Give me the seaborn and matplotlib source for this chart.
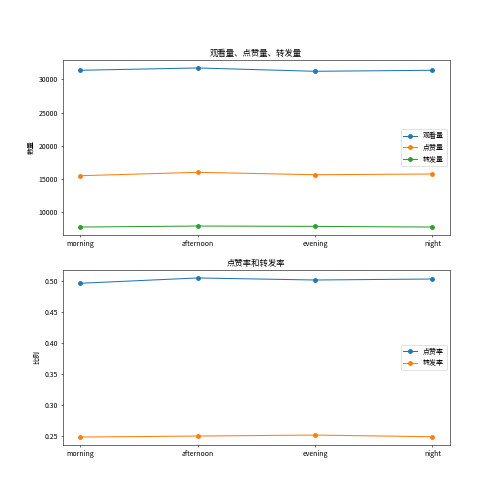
import pandas as pd
import matplotlib
matplotlib.use("Agg")
import matplotlib.pyplot as plt
import seaborn as sns

plt.rcParams['font.family'] = ['Noto Sans CJK SC', 'DejaVu Sans']
plt.rcParams['axes.unicode_minus'] = False

# 时段
periods = ["morning", "afternoon", "evening", "night"]

# 数量
views = [31350, 31700, 31200, 31350]
likes = [15505, 16015, 15655, 15760]
shares = [7790, 7940, 7890, 7790]

# 比例
like_rate = [0.4958, 0.5044, 0.5011, 0.5027]
share_rate = [0.2479, 0.2495, 0.2511, 0.2484]

df1 = pd.DataFrame({"period": periods * 3,
                    "value": views + likes + shares,
                    "kind": ["观看量"] * 4 + ["点赞量"] * 4 + ["转发量"] * 4})
df2 = pd.DataFrame({"period": periods * 2,
                    "value": like_rate + share_rate,
                    "kind": ["点赞率"] * 4 + ["转发率"] * 4})

fig, (ax1, ax2) = plt.subplots(2, 1, figsize=(10, 10), dpi=50)

sns.lineplot(data=df1, x="period", y="value", hue="kind", marker="o",
             markersize=7, markeredgewidth=0, sort=False, ax=ax1)
ax1.set_title("观看量、点赞量、转发量")
ax1.set_xlabel("")
ax1.set_ylabel("数量")
ax1.legend(loc="center right")

sns.lineplot(data=df2, x="period", y="value", hue="kind", marker="o",
             markersize=7, markeredgewidth=0, sort=False, ax=ax2)
ax2.set_title("点赞率和转发率")
ax2.set_xlabel("")
ax2.set_ylabel("比例")
ax2.legend(loc="center right")

plt.savefig("out.png")
